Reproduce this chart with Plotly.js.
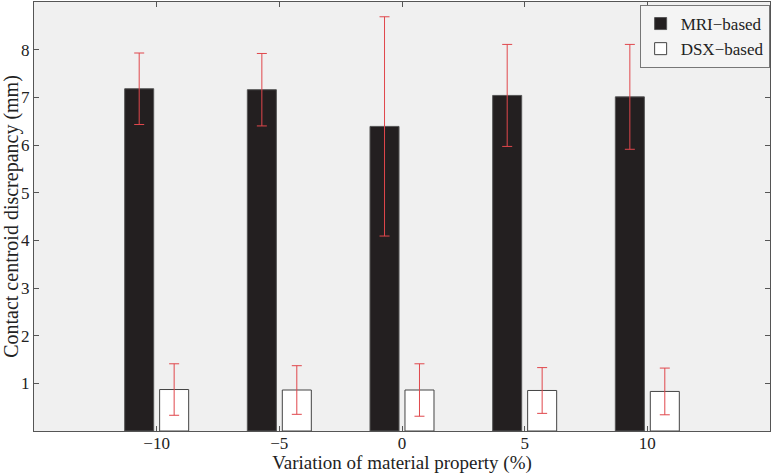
<!DOCTYPE html>
<html>
<head>
<meta charset="utf-8">
<script src="https://cdn.plot.ly/plotly-3.0.1.min.js"></script>
<style>html,body{margin:0;padding:0;background:#fff;}#chart{width:772px;height:474px;}</style>
</head>
<body>
<div id="chart"></div>
<script>
const variation = [-10, -5, 0, 5, 10];
const mriMean = [7.18, 7.16, 6.39, 7.04, 7.01];
const mriErr = [0.75, 0.76, 2.30, 1.07, 1.10];
const dsxMean = [0.87, 0.86, 0.86, 0.85, 0.83];
const dsxErr = [0.54, 0.51, 0.55, 0.48, 0.49];
const xTicks = [-10, -5, 0, 5, 10];
const yTicks = [1, 2, 3, 4, 5, 6, 7, 8];

const errStyle = {type: 'data', visible: true, color: '#e0474c', thickness: 1, width: 5};

const traces = [
  {
    type: 'bar', name: 'MRI\u2212based', x: variation, y: mriMean,
    marker: {color: '#231f20', line: {color: '#555', width: 1}},
    error_y: Object.assign({array: mriErr}, errStyle)
  },
  {
    type: 'bar', name: 'DSX\u2212based', x: variation, y: dsxMean,
    marker: {color: '#ffffff', line: {color: '#444', width: 1}},
    error_y: Object.assign({array: dsxErr}, errStyle)
  }
];

const fam = '"Liberation Serif", "Times New Roman", serif';
const tickFont = {family: fam, size: 17, color: '#222'};
const titleFont = {family: fam, size: 19, color: '#222'};
const yTitleFont = {family: fam, size: 20, color: '#222'};

const layout = {
  width: 772, height: 474,
  margin: {l: 34, r: 2, t: 2, b: 43},
  paper_bgcolor: '#ffffff',
  plot_bgcolor: '#f0f0f0',
  font: tickFont,
  barmode: 'group',
  bargap: 0.43,
  bargroupgap: 0.17,
  showlegend: true,
  legend: {
    x: 0.9995, y: 0.993, xanchor: 'right', yanchor: 'top',
    bgcolor: '#f4f4f4', bordercolor: '#777', borderwidth: 1,
    font: {family: fam, size: 17, color: '#222'},
    tracegroupgap: 0
  },
  xaxis: {
    range: [-15, 15],
    tickvals: xTicks,
    ticktext: xTicks.map(v => v < 0 ? '\u2212' + Math.abs(v) : String(v)),
    ticks: 'inside', ticklen: 5, tickcolor: '#555',
    ticklabelstandoff: -3,
    showline: true, linecolor: '#555', linewidth: 1, mirror: 'ticks',
    showgrid: false, zeroline: false,
    tickfont: tickFont,
    title: {text: 'Variation of material property (%)', font: titleFont, standoff: 2}
  },
  yaxis: {
    range: [0, 9],
    tickvals: yTicks,
    ticks: 'inside', ticklen: 5, tickcolor: '#555',
    showline: true, linecolor: '#555', linewidth: 1, mirror: 'ticks',
    showgrid: false, zeroline: false,
    tickfont: tickFont,
    title: {text: 'Contact centroid discrepancy (mm)', font: yTitleFont, standoff: 0}
  }
};

Plotly.newPlot('chart', traces, layout, {displayModeBar: false, staticPlot: true});
</script>
</body>
</html>
